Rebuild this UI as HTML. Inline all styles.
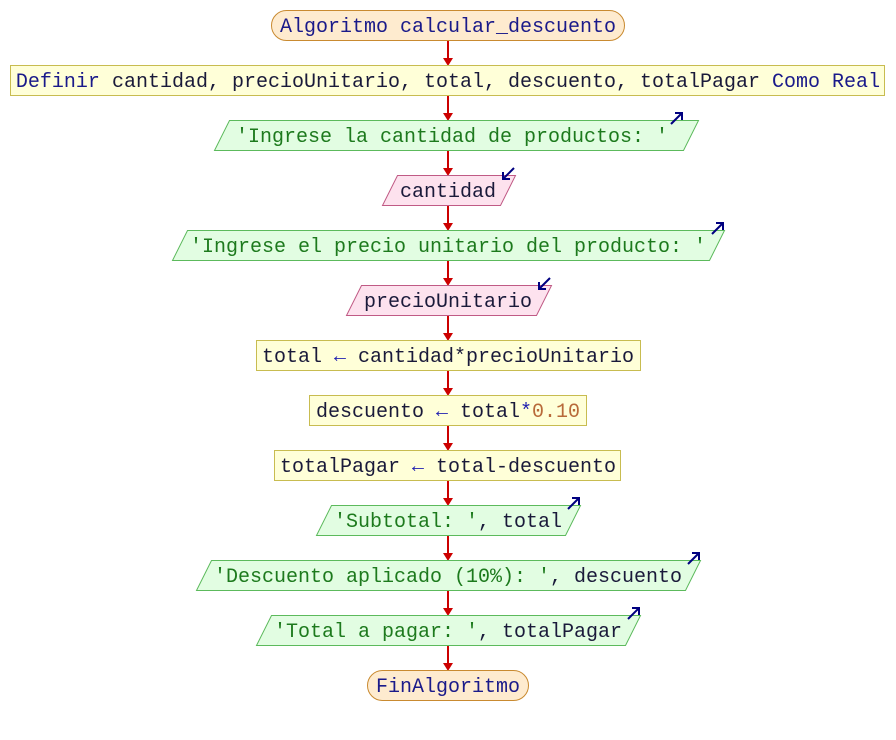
<!DOCTYPE html>
<html><head><meta charset="utf-8"><style>
html,body{margin:0;padding:0;background:#fff;}
svg text{font-family:"Liberation Mono",monospace;font-size:20px;}
.v{fill:#1a1a3a}.k{fill:#1a1a8a}.s{fill:#1d7a1d}.n{fill:#b86a3a}.a{fill:#2020b0}
</style></head><body>
<svg width="896" height="735" viewBox="0 0 896 735" xmlns="http://www.w3.org/2000/svg">
<defs>
<g id="oa"><path d="M-11 10 L0 -1" stroke="#000080" stroke-width="2" fill="none"/><path d="M-7 -1 L0 -1 L0 6" stroke="#000080" stroke-width="2" fill="none"/></g>
<g id="ia"><path d="M0 -1 L-11 10" stroke="#000080" stroke-width="2" fill="none"/><path d="M-11 3 L-11 10 L-4 10" stroke="#000080" stroke-width="2" fill="none"/></g>
</defs>
<!-- connectors -->
<g stroke="#cc0000" stroke-width="2">
<line x1="448" y1="40" x2="448" y2="60"/>
<line x1="448" y1="95" x2="448" y2="114"/>
<line x1="448" y1="150" x2="448" y2="170"/>
<line x1="448" y1="205" x2="448" y2="225"/>
<line x1="448" y1="260" x2="448" y2="280"/>
<line x1="448" y1="315" x2="448" y2="335"/>
<line x1="448" y1="370" x2="448" y2="390"/>
<line x1="448" y1="425" x2="448" y2="445"/>
<line x1="448" y1="480" x2="448" y2="500"/>
<line x1="448" y1="535" x2="448" y2="555"/>
<line x1="448" y1="590" x2="448" y2="610"/>
<line x1="448" y1="645" x2="448" y2="665"/>
</g>
<g fill="#cc0000">
<path d="M443 58 L453 58 L448 66Z"/><path d="M443 113 L453 113 L448 121Z"/><path d="M443 168 L453 168 L448 176Z"/><path d="M443 223 L453 223 L448 231Z"/><path d="M443 278 L453 278 L448 286Z"/><path d="M443 333 L453 333 L448 341Z"/><path d="M443 388 L453 388 L448 396Z"/><path d="M443 443 L453 443 L448 451Z"/><path d="M443 498 L453 498 L448 506Z"/><path d="M443 553 L453 553 L448 561Z"/><path d="M443 608 L453 608 L448 616Z"/><path d="M443 663 L453 663 L448 671Z"/>
</g>
<!-- start -->
<rect x="271.5" y="10.5" width="353" height="30" rx="15" fill="#feebcf" stroke="#c98a30"/>
<text x="448" y="32" text-anchor="middle" class="k">Algoritmo calcular_descuento</text>
<!-- define -->
<rect x="10.5" y="65.5" width="874" height="30" fill="#ffffd8" stroke="#c8bc50"/>
<text x="448" y="87" text-anchor="middle"><tspan class="k">Definir</tspan><tspan class="v"> cantidad, precioUnitario, total, descuento, totalPagar </tspan><tspan class="k">Como Real</tspan></text>
<!-- out1 -->
<path d="M229.5 120.5 L698.5 120.5 L683.5 150.5 L214.5 150.5Z" fill="#e2fde2" stroke="#5cba5c"/>
<text x="452" y="142" text-anchor="middle" class="s">'Ingrese la cantidad de productos: '</text>
<use href="#oa" x="682" y="114"/>
<!-- in1 -->
<path d="M397.5 175.5 L515.5 175.5 L500.5 205.5 L382.5 205.5Z" fill="#fde2ee" stroke="#c05a85"/>
<text x="448" y="197" text-anchor="middle" class="v">cantidad</text>
<use href="#ia" x="514" y="169"/>
<!-- out2 -->
<path d="M187.5 230.5 L724.5 230.5 L709.5 260.5 L172.5 260.5Z" fill="#e2fde2" stroke="#5cba5c"/>
<text x="448" y="252" text-anchor="middle" class="s">'Ingrese el precio unitario del producto: '</text>
<use href="#oa" x="723" y="224"/>
<!-- in2 -->
<path d="M361.5 285.5 L551.5 285.5 L536.5 315.5 L346.5 315.5Z" fill="#fde2ee" stroke="#c05a85"/>
<text x="448" y="307" text-anchor="middle" class="v">precioUnitario</text>
<use href="#ia" x="550" y="279"/>
<!-- assigns -->
<rect x="256.5" y="340.5" width="384" height="30" fill="#ffffd8" stroke="#c8bc50"/>
<text x="448" y="362" text-anchor="middle"><tspan class="v">total </tspan><tspan class="a">←</tspan><tspan class="v"> cantidad*precioUnitario</tspan></text>
<rect x="309.5" y="395.5" width="277" height="30" fill="#ffffd8" stroke="#c8bc50"/>
<text x="448" y="417" text-anchor="middle"><tspan class="v">descuento </tspan><tspan class="a">←</tspan><tspan class="v"> total</tspan><tspan class="a">*</tspan><tspan class="n">0.10</tspan></text>
<rect x="274.5" y="450.5" width="346" height="30" fill="#ffffd8" stroke="#c8bc50"/>
<text x="448" y="472" text-anchor="middle"><tspan class="v">totalPagar </tspan><tspan class="a">←</tspan><tspan class="v"> total-descuento</tspan></text>
<!-- out3 -->
<path d="M331.5 505.5 L580.5 505.5 L565.5 535.5 L316.5 535.5Z" fill="#e2fde2" stroke="#5cba5c"/>
<text x="448" y="527" text-anchor="middle"><tspan class="s">'Subtotal: '</tspan><tspan class="v">, total</tspan></text>
<use href="#oa" x="579" y="499"/>
<!-- out4 -->
<path d="M211.5 560.5 L700.5 560.5 L685.5 590.5 L196.5 590.5Z" fill="#e2fde2" stroke="#5cba5c"/>
<text x="448" y="582" text-anchor="middle"><tspan class="s">'Descuento aplicado (10%): '</tspan><tspan class="v">, descuento</tspan></text>
<use href="#oa" x="699" y="554"/>
<!-- out5 -->
<path d="M271.5 615.5 L640.5 615.5 L625.5 645.5 L256.5 645.5Z" fill="#e2fde2" stroke="#5cba5c"/>
<text x="448" y="637" text-anchor="middle"><tspan class="s">'Total a pagar: '</tspan><tspan class="v">, totalPagar</tspan></text>
<use href="#oa" x="639" y="609"/>
<!-- end -->
<rect x="367.5" y="670.5" width="161" height="30" rx="15" fill="#feebcf" stroke="#c98a30"/>
<text x="448" y="692" text-anchor="middle" class="k">FinAlgoritmo</text>
</svg>
</body></html>
